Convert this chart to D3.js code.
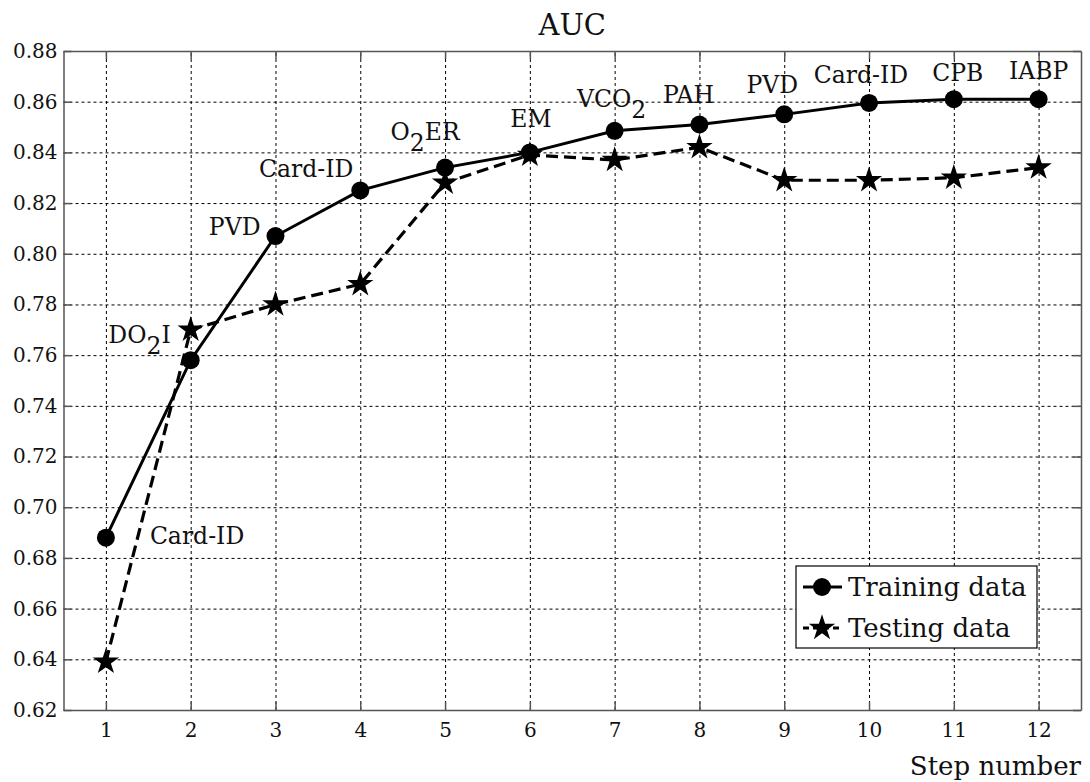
<!DOCTYPE html>
<html lang="en">
<head>
<meta charset="UTF-8">
<title>AUC</title>
<script src="https://d3js.org/d3.v7.min.js"></script>
<style>
  body { margin: 0; background: #fff; }
  text { font-family: "DejaVu Serif", serif; fill: #111; }
  .grid line { stroke: #000; stroke-dasharray: 3,3; stroke-width: 1; }
  .grid path { display: none; }
  .axis path, .axis line { stroke: #555; stroke-width: 1.5; }
  .axis text { font-size: 20px; fill: #111; }
</style>
</head>
<body>
<div id="chart"></div>
<script>
// data
const steps = [1, 2, 3, 4, 5, 6, 7, 8, 9, 10, 11, 12];
const training = [0.688, 0.758, 0.807, 0.825, 0.834, 0.840, 0.8485, 0.851, 0.855, 0.8595, 0.861, 0.861];
const testing = [0.639, 0.770, 0.780, 0.788, 0.828, 0.839, 0.837, 0.842, 0.829, 0.829, 0.830, 0.834];
const stepLabels = ["Card-ID", "DO_{2}I", "PVD", "Card-ID", "O_{2}ER", "EM", "VCO_{2}", "PAH", "PVD", "Card-ID", "CPB", "IABP"];
const yTicks = [0.62, 0.64, 0.66, 0.68, 0.70, 0.72, 0.74, 0.76, 0.78, 0.80, 0.82, 0.84, 0.86, 0.88];

// label placement relative to training point: [dx, dy, anchor]
const labelPlace = [
  [44, 6, "start"], [-20, -17, "end"], [-15, -1, "end"], [-7, -13, "end"],
  [-20, -28, "middle"], [1, -25, "middle"], [-3, -24, "middle"], [-11, -22, "middle"],
  [-12, -21, "middle"], [-8, -20, "middle"], [4, -18, "middle"], [0, -20, "middle"]
];

const W = 1090, H = 782;
const margin = { top: 51, right: 9, bottom: 72, left: 63.5 };
const width = W - margin.left - margin.right;
const height = H - margin.top - margin.bottom;

const svg = d3.select("#chart").append("svg")
  .attr("width", W).attr("height", H);
const g = svg.append("g")
  .attr("transform", `translate(${margin.left},${margin.top})`);

const x = d3.scaleLinear().domain([0.5, 12.5]).range([0, width]);
const y = d3.scaleLinear().domain([0.62, 0.88]).range([height, 0]);

// grid
g.append("g").attr("class", "grid")
  .attr("transform", `translate(0,${height})`)
  .call(d3.axisBottom(x).tickValues(steps).tickSize(-height).tickFormat(""));
g.append("g").attr("class", "grid")
  .call(d3.axisLeft(y).tickValues(yTicks).tickSize(-width).tickFormat(""));

// axes with inward ticks
g.append("g").attr("class", "axis")
  .attr("transform", `translate(0,${height})`)
  .call(d3.axisBottom(x).tickValues(steps).tickSize(-8).tickSizeOuter(0).tickPadding(13));
g.append("g").attr("class", "axis")
  .call(d3.axisTop(x).tickValues(steps).tickSize(-8).tickSizeOuter(0).tickFormat(""));
g.append("g").attr("class", "axis")
  .call(d3.axisLeft(y).tickValues(yTicks).tickSize(-8).tickSizeOuter(0).tickPadding(6).tickFormat(d3.format(".2f")));
g.append("g").attr("class", "axis")
  .attr("transform", `translate(${width},0)`)
  .call(d3.axisRight(y).tickValues(yTicks).tickSize(-8).tickSizeOuter(0).tickFormat(""));

// lines
const trainData = steps.map((s, i) => ({ s, v: training[i] }));
const testData = steps.map((s, i) => ({ s, v: testing[i] }));
const line = d3.line().x(d => x(d.s)).y(d => y(d.v));

g.append("path").datum(testData)
  .attr("d", line).attr("fill", "none")
  .attr("stroke", "#000").attr("stroke-width", 3.2)
  .attr("stroke-dasharray", "12,6");
g.append("path").datum(trainData)
  .attr("d", line).attr("fill", "none")
  .attr("stroke", "#000").attr("stroke-width", 3);

const star = d3.symbol().type(d3.symbolStar).size(215);
g.selectAll(".star").data(testData).enter().append("path")
  .attr("class", "star")
  .attr("d", star)
  .attr("transform", d => `translate(${x(d.s)},${y(d.v)})`)
  .attr("fill", "#000");
g.selectAll(".dot").data(trainData).enter().append("circle")
  .attr("class", "dot")
  .attr("cx", d => x(d.s)).attr("cy", d => y(d.v)).attr("r", 9)
  .attr("fill", "#000");

// step labels with subscripts
function addRich(sel, str) {
  const parts = str.split(/(_\{[^}]*\})/).filter(p => p.length);
  let sub = false;
  parts.forEach(p => {
    if (p.startsWith("_{")) {
      sel.append("tspan").attr("dy", 11).text(p.slice(2, -1));
      sub = true;
    } else {
      sel.append("tspan").attr("dy", sub ? -11 : 0).text(p);
      sub = false;
    }
  });
}

trainData.forEach((d, i) => {
  const p = labelPlace[i];
  const t = g.append("text")
    .attr("x", x(d.s) + p[0])
    .attr("y", y(d.v) + p[1])
    .attr("text-anchor", p[2])
    .attr("font-size", 23.5)
    .attr("fill", "#2a2a2a");
  addRich(t, stepLabels[i]);
});

// title and x label
svg.append("text")
  .attr("x", margin.left + width / 2).attr("y", 35)
  .attr("text-anchor", "middle").attr("font-size", 29)
  .text("AUC");
svg.append("text")
  .attr("x", W - 9).attr("y", 775)
  .attr("text-anchor", "end").attr("font-size", 26)
  .text("Step number");

// legend
const lg = svg.append("g").attr("transform", "translate(796,566)");
lg.append("rect").attr("width", 241).attr("height", 82)
  .attr("fill", "#fff").attr("stroke", "#000").attr("stroke-width", 1.2);
const rows = [["Training data", "circle"], ["Testing data", "star"]];
rows.forEach((r, i) => {
  const cy = 21 + i * 41;
  lg.append("line").attr("x1", 7).attr("x2", 46).attr("y1", cy).attr("y2", cy)
    .attr("stroke", "#000").attr("stroke-width", 3)
    .attr("stroke-dasharray", i === 1 ? "6,4,16,4,6" : null);
  if (r[1] === "circle") {
    lg.append("circle").attr("cx", 26).attr("cy", cy).attr("r", 9).attr("fill", "#000");
  } else {
    lg.append("path").attr("d", star).attr("transform", `translate(26,${cy})`).attr("fill", "#000");
  }
  lg.append("text").attr("x", 52).attr("y", cy + 9)
    .attr("font-size", 26).text(r[0]);
});
</script>
</body>
</html>
